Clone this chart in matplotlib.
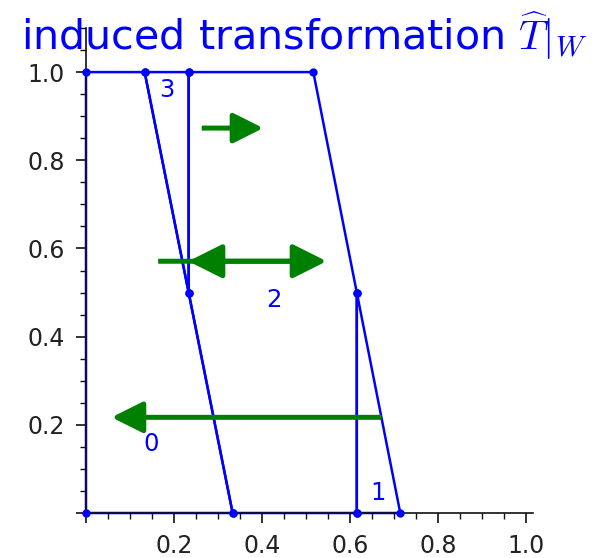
import matplotlib
matplotlib.use("Agg")
import matplotlib.pyplot as plt
from matplotlib.patches import FancyArrowPatch
from matplotlib.ticker import MultipleLocator

plt.rcParams['mathtext.fontset'] = 'cm'

# pieces of the partition, as vertex lists
piece_ids = [0, 1, 2, 3]
piece_x = [
    [0.0, 0.3333, 0.1333, 0.0],
    [0.6155, 0.7143, 0.6155],
    [0.2333, 0.2333, 0.5167, 0.6155, 0.6155, 0.3333],
    [0.1333, 0.2333, 0.2333],
]
piece_y = [
    [0.0, 0.0, 1.0, 1.0],
    [0.0, 0.0, 0.5],
    [0.5, 1.0, 1.0, 0.5, 0.0, 0.0],
    [1.0, 1.0, 0.5],
]
label_x = [0.149, 0.664, 0.428, 0.183]
label_y = [0.156, 0.045, 0.484, 0.960]

# translation arrows (tail -> tip)
arrow_x0 = [0.672, 0.263, 0.164, 0.50]
arrow_x1 = [0.058, 0.403, 0.547, 0.2326]
arrow_y = [0.217, 0.873, 0.571, 0.571]
arrow_size = [48, 46, 52, 52]

fig = plt.figure(figsize=(5.92, 5.58), dpi=100)
ax = fig.add_axes([86 / 592, 1 - 513 / 558, (533 - 86) / 592, (513 - 28) / 558])

for xs, ys in zip(piece_x, piece_y):
    ax.plot(xs + xs[:1], ys + ys[:1], color='blue', lw=1.8, zorder=2,
            solid_joinstyle='round', clip_on=False)
    ax.plot(xs, ys, 'o', color='blue', ms=5, zorder=3, clip_on=False)

for pid, lx, ly in zip(piece_ids, label_x, label_y):
    ax.text(lx, ly, str(pid), color='blue', fontsize=17.5,
            ha='center', va='center', zorder=4)

for x0, x1, y, ms in zip(arrow_x0, arrow_x1, arrow_y, arrow_size):
    arr = FancyArrowPatch((x0, y), (x1, y),
                          arrowstyle='-|>,head_length=0.4,head_width=0.2',
                          mutation_scale=ms, color='green', lw=3.6,
                          shrinkA=0, shrinkB=0, joinstyle='round',
                          capstyle='butt', zorder=5)
    ax.add_patch(arr)

ax.set_xlim(0, 1.016)
ax.set_ylim(0, 1.1)

for side in ['top', 'right']:
    ax.spines[side].set_visible(False)
for side in ['left', 'bottom']:
    ax.spines[side].set_linewidth(1.2)
    ax.spines[side].set_color('#111111')

ax.xaxis.set_major_locator(MultipleLocator(0.2))
ax.xaxis.set_minor_locator(MultipleLocator(0.05))
ax.yaxis.set_major_locator(MultipleLocator(0.2))
ax.yaxis.set_minor_locator(MultipleLocator(0.05))
ax.set_xticks([0.0, 0.2, 0.4, 0.6, 0.8, 1.0])
ax.set_xticklabels(['', '0.2', '0.4', '0.6', '0.8', '1.0'])
ax.set_yticks([0.0, 0.2, 0.4, 0.6, 0.8, 1.0])
ax.set_yticklabels(['', '0.2', '0.4', '0.6', '0.8', '1.0'])
ax.tick_params(which='major', length=7, width=1.2, labelsize=17,
               labelcolor='#222222', color='#111111', pad=8)
ax.tick_params(which='minor', length=4.5, width=1.0, color='#111111')

fig.text(305 / 592, 1 - 50 / 558, r'induced transformation $\widehat{T}|_W$',
         color='blue', fontsize=29.7, ha='center', va='baseline')

fig.savefig('out.png', dpi=100)
